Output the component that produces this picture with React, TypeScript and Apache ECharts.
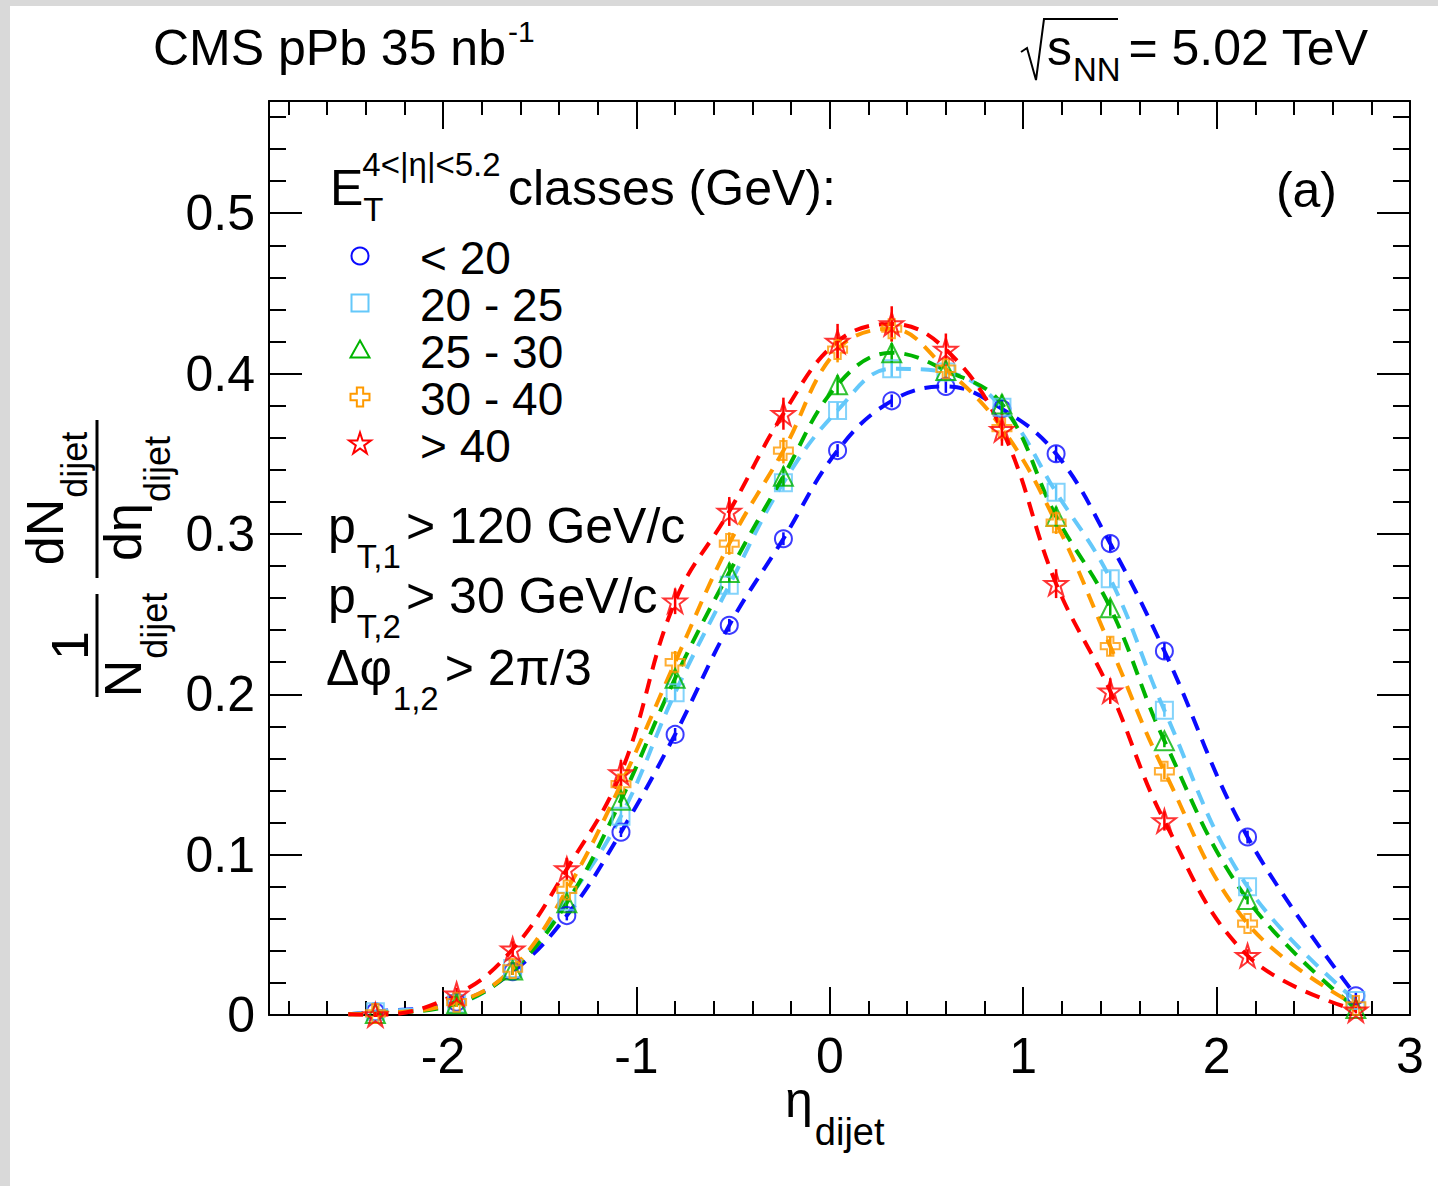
import React, { useEffect, useRef } from 'react';
import * as echarts from 'echarts';

// ---------- data ----------
const etaCenters = [-2.35, -1.93, -1.64, -1.36, -1.08, -0.8, -0.52, -0.24, 0.04, 0.32, 0.6, 0.89, 1.17, 1.45, 1.73, 2.16, 2.72];
const fitStartEta = -2.49;
const fitStartValue = 0.0005;

const classNames = ['< 20', '20 - 25', '25 - 30', '30 - 40', '> 40'];

const valsLt20 = [0.002, 0.008, 0.027, 0.062, 0.114, 0.175, 0.243, 0.297, 0.352, 0.383, 0.392, 0.378, 0.35, 0.294, 0.227, 0.111, 0.012];
const vals20to25 = [0.002, 0.007, 0.029, 0.071, 0.124, 0.201, 0.268, 0.332, 0.377, 0.403, 0.401, 0.379, 0.326, 0.272, 0.19, 0.08, 0.009];
const vals25to30 = [0.001, 0.007, 0.028, 0.07, 0.134, 0.21, 0.276, 0.336, 0.393, 0.413, 0.402, 0.381, 0.311, 0.254, 0.171, 0.072, 0.004];
const vals30to40 = [0.001, 0.008, 0.029, 0.078, 0.144, 0.22, 0.294, 0.352, 0.415, 0.428, 0.403, 0.366, 0.307, 0.23, 0.152, 0.057, 0.006];
const valsGt40 = [0.0, 0.013, 0.041, 0.091, 0.151, 0.258, 0.314, 0.375, 0.42, 0.431, 0.415, 0.365, 0.269, 0.202, 0.121, 0.037, 0.003];

const errLt20 = [0.001, 0.002, 0.002, 0.003, 0.003, 0.004, 0.004, 0.004, 0.004, 0.004, 0.004, 0.004, 0.005, 0.005, 0.005, 0.004, 0.002];
const err20to25 = [0.001, 0.002, 0.003, 0.003, 0.004, 0.005, 0.005, 0.005, 0.005, 0.005, 0.005, 0.005, 0.005, 0.005, 0.004, 0.003, 0.001];
const err25to30 = [0.001, 0.002, 0.003, 0.004, 0.005, 0.005, 0.006, 0.006, 0.006, 0.006, 0.006, 0.006, 0.006, 0.005, 0.004, 0.003, 0.001];
const err30to40 = [0.001, 0.003, 0.004, 0.005, 0.006, 0.007, 0.007, 0.008, 0.008, 0.008, 0.008, 0.008, 0.007, 0.006, 0.005, 0.003, 0.002];
const errGt40 = [0.002, 0.004, 0.005, 0.007, 0.008, 0.008, 0.009, 0.01, 0.011, 0.011, 0.01, 0.01, 0.009, 0.008, 0.006, 0.004, 0.002];

const xTickLabels = [-2, -1, 0, 1, 2, 3];
const yTickLabels = [0, 0.1, 0.2, 0.3, 0.4, 0.5];
const X_MIN = -2.9;
const X_MAX = 3;
const Y_MIN = 0;
const Y_MAX = 0.57;

const FONT = '"Liberation Sans", Arial, Helvetica, sans-serif';
const FS = 50; // main font size
const SS = 33; // sub/superscript font size
const LS = 46; // legend entry font size

// unit marker outlines (used for both the series symbols and the legend keys)
const SQUARE_PTS = [[-1, -1], [1, -1], [1, 1], [-1, 1]];
const TRIANGLE_PTS = [[0, -1], [1, 0.8], [-1, 0.8]];
const CROSS_PTS = [[-1, -3], [1, -3], [1, -1], [3, -1], [3, 1], [1, 1], [1, 3], [-1, 3], [-1, 1], [-3, 1], [-3, -1], [-1, -1]].map((p) => [p[0] / 3, p[1] / 3]);
const STAR_PTS = [[0, -100], [22.45, -30.9], [95.1, -30.9], [36.33, 11.8], [58.78, 80.9], [0, 38.2], [-58.78, 80.9], [-36.33, 11.8], [-95.1, -30.9], [-22.45, -30.9]].map((p) => [p[0] / 100, p[1] / 100]);

function toPath(pts: number[][]): string {
  return 'path://' + pts.map((p, i) => (i === 0 ? 'M' : 'L') + p[0] + ',' + p[1]).join('') + 'Z';
}

const classStyles = [
  { color: '#0a0aff', symbol: 'circle', pts: null as number[][] | null, size: 17 },
  { color: '#64c8fa', symbol: toPath(SQUARE_PTS), pts: SQUARE_PTS, size: 17 },
  { color: '#00b400', symbol: toPath(TRIANGLE_PTS), pts: TRIANGLE_PTS, size: 19 },
  { color: '#ff9a00', symbol: toPath(CROSS_PTS), pts: CROSS_PTS, size: 19 },
  { color: '#ff0000', symbol: toPath(STAR_PTS), pts: STAR_PTS, size: 23 },
];
const classVals = [valsLt20, vals20to25, vals25to30, vals30to40, valsGt40];
const classErrs = [errLt20, err20to25, err25to30, err30to40, errGt40];

function minorX(): number[] {
  const out: number[] = [];
  for (let k = -14; k <= 14; k++) {
    if (k % 5 === 0) continue;
    out.push(Number((k * 0.2).toFixed(1)));
  }
  return out;
}
function minorY(): number[] {
  const out: number[] = [];
  for (let k = 1; k <= 28; k++) {
    if (k % 5 === 0) continue;
    out.push(Number((k * 0.02).toFixed(2)));
  }
  return out;
}

let measureCtx: CanvasRenderingContext2D | null = null;
function tw(text: string, size: number): number {
  if (!measureCtx) measureCtx = document.createElement('canvas').getContext('2d');
  if (!measureCtx) return text.length * size * 0.55;
  measureCtx.font = `${size}px "Liberation Sans"`;
  return measureCtx.measureText(text).width;
}

const MID = 0.35;
function txt(text: string, x: number, baseline: number, size: number, align: string = 'left'): any {
  return {
    type: 'text',
    x,
    y: baseline - size * MID,
    silent: true,
    style: {
      text,
      font: `${size}px ${FONT}`,
      lineHeight: Math.round(size * 0.8),
      fill: '#000',
      textAlign: align,
      textVerticalAlign: 'middle',
      align,
      verticalAlign: 'middle',
    },
  };
}

function legendKey(ci: number, cx: number, cy: number): any {
  const st = classStyles[ci];
  const style = { fill: 'none', stroke: st.color, lineWidth: 2 };
  if (!st.pts) {
    return { type: 'circle', shape: { cx, cy, r: st.size / 2 }, style, silent: true };
  }
  const half = st.size / 2;
  return {
    type: 'polygon',
    shape: { points: st.pts.map((p) => [cx + p[0] * half, cy + p[1] * half]) },
    style,
    silent: true,
  };
}

function buildGraphics(): any[] {
  const g: any[] = [];
  // grey frame (top and left)
  g.push({ type: 'rect', shape: { x: 0, y: 0, width: 1438, height: 6 }, style: { fill: '#d9d9d9' }, silent: true });
  g.push({ type: 'rect', shape: { x: 0, y: 0, width: 10, height: 1186 }, style: { fill: '#d9d9d9' }, silent: true });

  // CMS label
  const cms = 'CMS pPb 35 nb';
  g.push(txt(cms, 153, 65, FS));
  g.push(txt('-1', 153 + tw(cms, FS) + 2, 42, 30));

  // sqrt(s_NN)
  g.push({
    type: 'polyline',
    shape: { points: [[1021, 52], [1027, 48], [1036, 80], [1044, 19], [1118, 19]] },
    style: { stroke: '#000', lineWidth: 2, fill: 'none' },
    silent: true,
  });
  g.push(txt('s', 1047, 65, FS));
  g.push(txt('NN', 1047 + tw('s', FS) + 1, 81, SS));
  g.push(txt('= 5.02 TeV', 1368, 65, FS, 'right'));

  // (a)
  g.push(txt('(a)', 1337, 207, FS, 'right'));

  // legend header
  g.push(txt('E', 330, 205, FS));
  const eW = tw('E', FS);
  g.push(txt('T', 330 + eW, 221, SS));
  g.push(txt('4<|η|<5.2', 330 + eW - 1, 176, SS));
  g.push(txt('classes (GeV):', 508, 205, FS));

  // legend entries
  classNames.forEach((name, ci) => {
    const base = 274 + ci * 47;
    g.push(legendKey(ci, 360, base - 18));
    g.push(txt(name, 420, base, LS));
  });

  // cuts
  const pW = tw('p', FS);
  g.push(txt('p', 328, 543, FS));
  g.push(txt('T,1', 328 + pW + 1, 568, SS));
  g.push(txt('> 120 GeV/c', 406, 543, FS));
  g.push(txt('p', 328, 613, FS));
  g.push(txt('T,2', 328 + pW + 1, 638, SS));
  g.push(txt('> 30 GeV/c', 406, 613, FS));
  const dpW = tw('Δφ', FS);
  g.push(txt('Δφ', 326, 685, FS));
  const sub12x = 326 + dpW + 1;
  g.push(txt('1,2', sub12x, 710, SS));
  g.push(txt('> 2π/3', Math.max(440, sub12x + tw('1,2', SS) + 6), 685, FS));

  // x axis title
  const etaW = tw('η', FS);
  g.push(txt('η', 785, 1117, FS));
  g.push(txt('dijet', 785 + etaW + 2, 1145, 38));

  // y axis title (rotated group, local x = page upward, local y = page rightward)
  const ch: any[] = [];
  const YF = 52;
  const YS = 36;
  // fraction 1 : 1 / N_dijet
  const b1a = 3, b1b = 106;
  ch.push({ type: 'line', shape: { x1: b1a, y1: 0, x2: b1b, y2: 0 }, style: { stroke: '#000', lineWidth: 3 }, silent: true });
  ch.push(txt('1', (b1a + b1b) / 2, -9, YF, 'center'));
  const nW = tw('N', YF);
  const subW = tw('dijet', YS);
  const den1Start = (b1a + b1b) / 2 - (nW + subW) / 2;
  ch.push(txt('N', den1Start, 44, YF));
  ch.push(txt('dijet', den1Start + nW + 1, 70, YS));
  // fraction 2 : dN_dijet / deta_dijet
  const b2a = 122, b2b = 280;
  const c2 = (b2a + b2b) / 2;
  ch.push({ type: 'line', shape: { x1: b2a, y1: 0, x2: b2b, y2: 0 }, style: { stroke: '#000', lineWidth: 3 }, silent: true });
  const dnW = tw('dN', YF);
  const numStart = c2 - (dnW + subW) / 2;
  ch.push(txt('dN', numStart, -34, YF));
  ch.push(txt('dijet', numStart + dnW + 1, -10, YS));
  const deW = tw('dη', YF);
  const denStart = c2 - (deW + subW) / 2;
  ch.push(txt('dη', denStart, 44, YF));
  ch.push(txt('dijet', denStart + deW + 1, 73, YS));
  g.push({ type: 'group', x: 97, y: 700, rotation: Math.PI / 2, children: ch, silent: true });

  return g;
}

function xAxisCfg(position: string, major: boolean, showLine: boolean): any {
  return {
    type: 'value',
    position,
    min: X_MIN,
    max: X_MAX,
    axisLine: { show: showLine, onZero: false, lineStyle: { color: '#000', width: 2 } },
    axisTick: {
      show: true,
      inside: true,
      length: major ? 28 : 14,
      customValues: major ? xTickLabels : minorX(),
      lineStyle: { color: '#000', width: 2 },
    },
    axisLabel: position === 'bottom' && major
      ? { show: true, customValues: xTickLabels, fontSize: FS, fontFamily: FONT, color: '#000', margin: 16 }
      : { show: false },
    splitLine: { show: false },
  };
}
function yAxisCfg(position: string, major: boolean, showLine: boolean): any {
  return {
    type: 'value',
    position,
    min: Y_MIN,
    max: Y_MAX,
    axisLine: { show: showLine, onZero: false, lineStyle: { color: '#000', width: 2 } },
    axisTick: {
      show: true,
      inside: true,
      length: major ? 33 : 17,
      customValues: major ? yTickLabels : minorY(),
      lineStyle: { color: '#000', width: 2 },
    },
    axisLabel: position === 'left' && major
      ? { show: true, customValues: yTickLabels, fontSize: FS, fontFamily: FONT, color: '#000', margin: 14 }
      : { show: false },
    splitLine: { show: false },
  };
}

function buildOption(): any {
  const series: any[] = [];
  classNames.forEach((name, ci) => {
    const st = classStyles[ci];
    const vals = classVals[ci];
    series.push({
      type: 'line',
      name: name + ' fit',
      xAxisIndex: 0,
      yAxisIndex: 0,
      data: [[fitStartEta, fitStartValue], ...etaCenters.map((x, i) => [x, vals[i]])],
      smooth: 0.4,
      showSymbol: false,
      symbol: 'none',
      silent: true,
      lineStyle: { color: st.color, width: 4, type: [15, 10] },
      z: 2,
    });
  });
  classNames.forEach((name, ci) => {
    const st = classStyles[ci];
    const vals = classVals[ci];
    const errs = classErrs[ci];
    series.push({
      type: 'custom',
      name: name + ' err',
      xAxisIndex: 0,
      yAxisIndex: 0,
      silent: true,
      data: etaCenters.map((x, i) => [x, vals[i], errs[i]]),
      encode: { x: 0, y: 1 },
      renderItem: (params: any, api: any) => {
        const x = api.value(0);
        const y = api.value(1);
        const e = api.value(2);
        const p1 = api.coord([x, y + e]);
        const p2 = api.coord([x, Math.max(0, y - e)]);
        return {
          type: 'line',
          shape: { x1: p1[0], y1: p1[1], x2: p2[0], y2: p2[1] },
          style: { stroke: st.color, lineWidth: 2.5 },
        };
      },
      z: 3,
    });
    series.push({
      type: 'scatter',
      name,
      xAxisIndex: 0,
      yAxisIndex: 0,
      data: etaCenters.map((x, i) => [x, vals[i]]),
      symbol: st.symbol,
      symbolSize: st.size,
      itemStyle: { color: 'rgba(255,255,255,0)', borderColor: st.color, borderWidth: 2 },
      z: 4,
    });
  });

  return {
    animation: false,
    backgroundColor: '#ffffff',
    grid: { left: 269, right: 28, top: 101, bottom: 171, containLabel: false },
    xAxis: [
      xAxisCfg('bottom', true, true),
      xAxisCfg('bottom', false, false),
      xAxisCfg('top', true, true),
      xAxisCfg('top', false, false),
    ],
    yAxis: [
      yAxisCfg('left', true, true),
      yAxisCfg('left', false, false),
      yAxisCfg('right', true, true),
      yAxisCfg('right', false, false),
    ],
    graphic: buildGraphics(),
    series,
  };
}

export default function App() {
  const ref = useRef<HTMLDivElement>(null);
  useEffect(() => {
    if (!ref.current) return;
    const chart = echarts.init(ref.current, null, { renderer: 'svg' });
    chart.setOption(buildOption());
    return () => {
      chart.dispose();
    };
  }, []);
  return (
    <div
      ref={ref}
      style={{ position: 'absolute', left: 0, top: 0, width: 1438, height: 1186, background: '#ffffff' }}
    />
  );
}
